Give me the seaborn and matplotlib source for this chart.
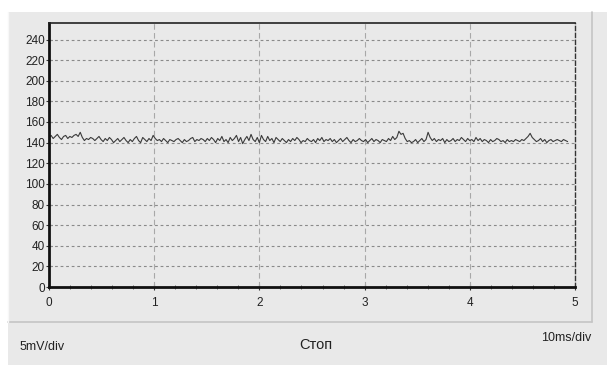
import numpy as np
import matplotlib
matplotlib.use("Agg")
import matplotlib.pyplot as plt
import seaborn as sns
from matplotlib import font_manager
from matplotlib.patches import Rectangle
from matplotlib.lines import Line2D

# Trace values (mV scale units), about 250 samples over 0..4.93 div
trace = [
    145, 147, 144, 146, 148, 145, 143, 146, 147, 144, 146, 145, 147, 148, 146, 150, 145, 142, 144, 143, 145, 144, 142, 144, 146,
    143, 141, 144, 142, 145, 143, 140, 142, 144, 141, 143, 145, 142, 140, 143, 141, 144, 146, 142, 140, 145, 143, 141, 144, 142,
    147, 144, 142, 143, 141, 144, 142, 140, 143, 142, 141, 143, 144, 142, 140, 143, 141, 142, 144, 145, 141, 143, 142, 144, 143,
    141, 144, 142, 145, 143, 140, 144, 142, 146, 141, 143, 140, 145, 142, 144, 147, 141, 145, 139, 143, 146, 142, 148, 143, 141,
    145, 140, 147, 143, 141, 146, 142, 144, 140, 145, 143, 141, 144, 142, 140, 143, 141, 144, 142, 145, 143, 140, 142, 141, 144,
    142, 141, 143, 140, 144, 142, 145, 141, 143, 142, 144, 141, 143, 140, 142, 144, 141, 143, 145, 142, 140, 143, 141, 142, 144,
    142, 141, 143, 140, 142, 144, 141, 143, 142, 140, 143, 142, 141, 144, 142, 146, 143, 145, 151, 148, 149, 144, 141, 142, 140,
    141, 143, 140, 142, 144, 141, 143, 150, 145, 142, 144, 141, 143, 142, 144, 140, 143, 141, 142, 144, 141, 143, 142, 145, 143,
    141, 144, 142, 143, 141, 145, 142, 144, 141, 143, 142, 140, 143, 141, 142, 144, 143, 141, 142, 140, 143, 141, 142, 141, 143,
    142, 141, 143, 142, 144, 146, 149, 145, 143, 141, 142, 144, 141, 143, 140, 142, 143, 141, 142, 143, 142, 141, 143, 142, 141,
]
t_end = 4.93
y_ticks = list(range(0, 241, 20))
x_ticks = [0, 1, 2, 3, 4, 5]
volt_label = "5mV/div"
time_label = "10ms/div"
status_label = "Стоп"

t = np.linspace(0, t_end, len(trace))

sns.set_theme(style="white")
installed = {f.name for f in font_manager.fontManager.ttflist}
families = [f for f in ["Liberation Sans Narrow", "Liberation Sans"] if f in installed] + ["DejaVu Sans"]
plt.rcParams["font.family"] = families

W, H = 607, 365
fig = plt.figure(figsize=(W / 100, H / 100), dpi=100)
fig.patch.set_facecolor("white")

# panel background and bevel
fig.patches.append(Rectangle((8 / W, 0), 1, (H - 12) / H, transform=fig.transFigure,
                             facecolor="#e9e9e9", edgecolor="none", zorder=-10))
fig.lines.append(Line2D([8 / W, 592 / W], [1 - 322 / H, 1 - 322 / H], transform=fig.transFigure,
                        color="#c4c4c4", lw=1.2, zorder=-5))
fig.lines.append(Line2D([592 / W, 592 / W], [1 - 322 / H, 1 - 12 / H], transform=fig.transFigure,
                        color="#c4c4c4", lw=1.2, zorder=-5))
fig.lines.append(Line2D([8 / W, 8 / W], [1 - 322 / H, 1 - 12 / H], transform=fig.transFigure,
                        color="#f7f7f7", lw=1.0, zorder=-5))

ax = fig.add_axes([49 / W, 1 - 287 / H, (575 - 49) / W, (287 - 23) / H])
ax.set_facecolor("#e9e9e9")

sns.lineplot(x=t, y=trace, ax=ax, color="#3a3a3a", lw=0.8)

ax.set_xlim(0, 5)
ax.set_ylim(0, 256)
ax.set_xticks(x_ticks)
ax.set_yticks(y_ticks)
ax.set_xticks(np.arange(0, 5.01, 0.2), minor=True)

for y in y_ticks[1:]:
    ax.axhline(y, color="#8a8a8a", lw=0.8, ls=(0, (2.5, 2.5)), zorder=1)
for x in x_ticks[1:-1]:
    ax.axvline(x, color="#a8a8a8", lw=0.8, ls=(0, (5, 3)), zorder=1)

ax.spines["left"].set_linewidth(2.0)
ax.spines["left"].set_color("#111111")
ax.spines["bottom"].set_linewidth(2.0)
ax.spines["bottom"].set_color("#111111")
ax.spines["top"].set_linewidth(1.2)
ax.spines["top"].set_color("#222222")
ax.spines["right"].set_linewidth(1.0)
ax.spines["right"].set_color("#333333")
ax.spines["right"].set_linestyle((0, (3, 2)))

ax.tick_params(axis="both", which="major", direction="inout", length=4, width=0.8,
               colors="#333333", labelsize=8.5, labelcolor="#222222", left=True, bottom=True)
ax.tick_params(axis="x", which="major", pad=5)
ax.tick_params(axis="y", which="major", pad=1)
ax.tick_params(axis="x", which="minor", direction="inout", length=3, width=0.6,
               colors="#555555", bottom=True)

ax.set_xlabel("")
ax.set_ylabel("")

fig.text(20 / W, 1 - 347 / H, volt_label, fontsize=9, color="#222222", va="center", ha="left")
fig.text(316 / W, 1 - 345 / H, status_label, fontsize=10.5, color="#222222", va="center", ha="center")
fig.text(591 / W, 1 - 338 / H, time_label, fontsize=9, color="#222222", va="center", ha="right")

fig.savefig("out.png", dpi=100, facecolor=fig.get_facecolor())
